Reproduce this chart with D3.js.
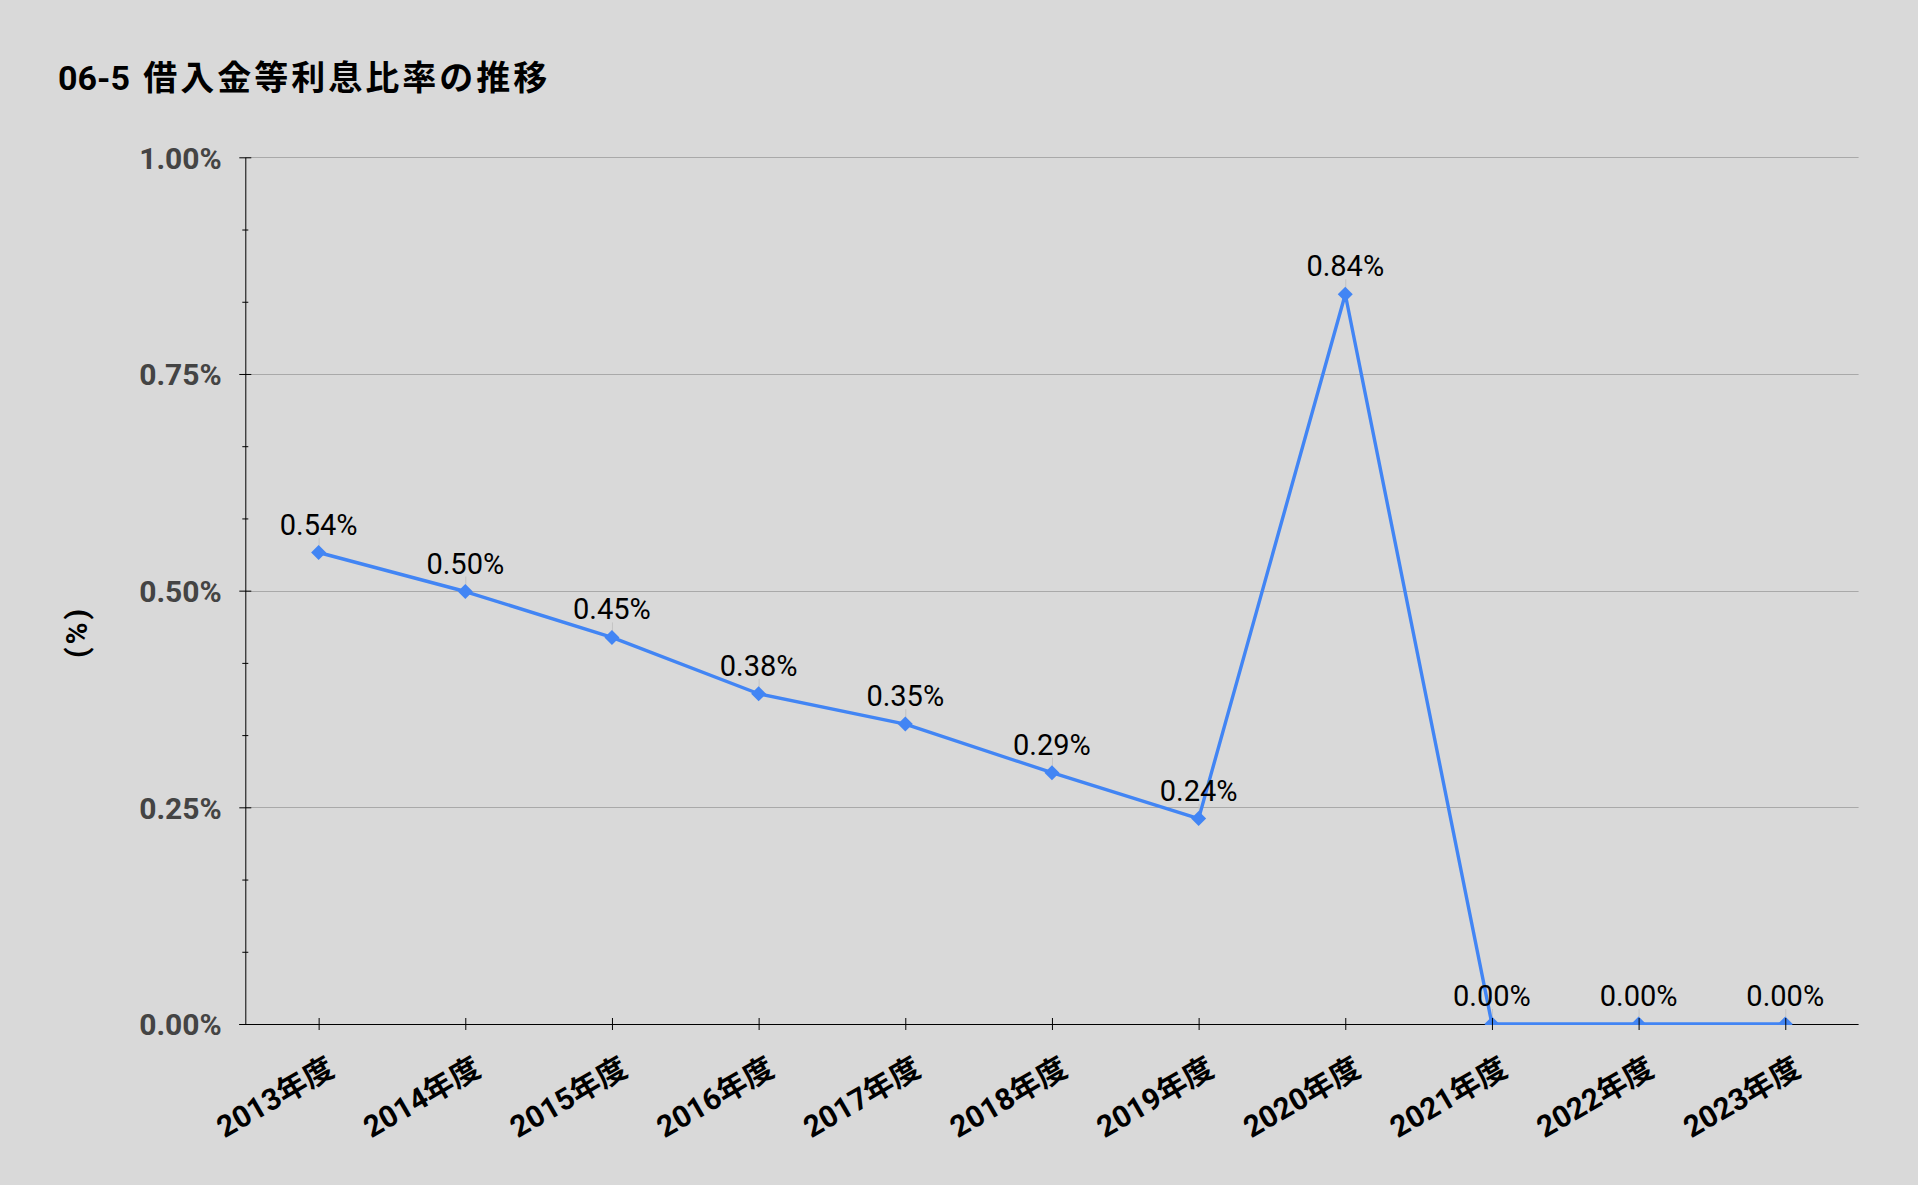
<!DOCTYPE html>
<html>
<head>
<meta charset="utf-8">
<script src="https://cdn.jsdelivr.net/npm/d3@7"></script>
<style>
  html, body { margin: 0; padding: 0; background: #d9d9d9; }
  svg { display: block; }
</style>
</head>
<body>
<script>
// ---- data ----
const titleNumber = "06-5";
const titleText = "借入金等利息比率の推移";
const yAxisTitle = "(%)";
const categories = ["2013年度","2014年度","2015年度","2016年度","2017年度","2018年度","2019年度","2020年度","2021年度","2022年度","2023年度"];
const values = [0.544, 0.499, 0.446, 0.381, 0.346, 0.290, 0.237, 0.842, 0, 0, 0];
const yTicks = [0, 0.25, 0.5, 0.75, 1.0];
const yMinorTicks = [1/12, 2/12, 4/12, 5/12, 7/12, 8/12, 10/12, 11/12];

// ---- layout ----
const W = 1918, H = 1185;
const plot = { left: 245.3, right: 1858.6, top: 157.3, bottom: 1024 };
const FONT = "Roboto, 'Noto Sans CJK JP', 'Noto Sans', sans-serif";
const BLUE = "#4285f4";

const svg = d3.select("body").append("svg").attr("width", W).attr("height", H)
  .style("font-family", FONT);
svg.append("rect").attr("width", W).attr("height", H).attr("fill", "#d9d9d9");

const x = d3.scalePoint().domain(categories).range([plot.left, plot.right]).padding(0.5);
const y = d3.scaleLinear().domain([0, 1]).range([plot.bottom, plot.top]);

// title
const t = svg.append("text").attr("x", 58).attr("y", 90)
  .attr("font-size", 34).attr("font-weight", "bold").attr("fill", "#000");
t.append("tspan").text(titleNumber);
t.append("tspan").attr("dx", 2).attr("letter-spacing", 3).text(" " + titleText);

// gridlines
svg.append("g").selectAll("line").data(yTicks.filter(d => d > 0)).join("line")
  .attr("x1", plot.left).attr("x2", plot.right)
  .attr("y1", d => Math.round(y(d)) + 0.5).attr("y2", d => Math.round(y(d)) + 0.5)
  .attr("stroke", "#a9a9a9").attr("stroke-width", 1);

// y axis (major)
const gy = svg.append("g").attr("transform", `translate(${plot.left},0)`)
  .call(d3.axisLeft(y).tickValues(yTicks).tickFormat(d => d.toFixed(2) + "%").tickSizeOuter(0).tickSizeInner(6));
gy.select(".domain").attr("stroke", "#000");
gy.selectAll(".tick line").attr("x1", -6).attr("x2", 6).attr("stroke", "#000");
gy.selectAll(".tick text").attr("x", -23.6).attr("dy", "0.36em")
  .attr("font-size", 30).attr("font-weight", "bold").attr("fill", "#444").style("font-family", FONT);

// y axis minor ticks
const gym = svg.append("g").attr("transform", `translate(${plot.left},0)`)
  .call(d3.axisLeft(y).tickValues(yMinorTicks).tickFormat("").tickSizeOuter(0));
gym.select(".domain").remove();
gym.selectAll(".tick line").attr("x1", -3).attr("x2", 3).attr("stroke", "#000");

// y axis title
svg.append("text").attr("transform", "translate(76,632) rotate(-90)")
  .attr("text-anchor", "middle").attr("dominant-baseline", "central")
  .attr("font-size", 30).attr("font-weight", "bold").attr("letter-spacing", 3)
  .attr("fill", "#000").text(yAxisTitle);

// x axis domain
svg.append("line").attr("x1", plot.left - 6).attr("x2", plot.right)
  .attr("y1", plot.bottom + 0.5).attr("y2", plot.bottom + 0.5).attr("stroke", "#000");

// clip
svg.append("defs").append("clipPath").attr("id", "plotclip").append("rect")
  .attr("x", plot.left).attr("y", plot.top - 40).attr("width", plot.right - plot.left)
  .attr("height", plot.bottom - plot.top + 41);

const series = svg.append("g").attr("clip-path", "url(#plotclip)");
const pts = categories.map((c, i) => ({ c, v: values[i] }));

// leader lines
series.selectAll("line.leader").data(pts).join("line").attr("class", "leader")
  .attr("x1", d => x(d.c) + 0.5).attr("x2", d => x(d.c) + 0.5)
  .attr("y1", d => y(d.v) - 15).attr("y2", d => y(d.v))
  .attr("stroke", "#c4c4c4").attr("stroke-width", 1);

series.append("path").datum(pts)
  .attr("d", d3.line().x(d => x(d.c)).y(d => y(d.v)))
  .attr("fill", "none").attr("stroke", BLUE).attr("stroke-width", 3.4).attr("stroke-linejoin", "round");

series.selectAll("path.mk").data(pts).join("path").attr("class", "mk")
  .attr("transform", d => `translate(${x(d.c)},${y(d.v)})`)
  .attr("d", "M0,-7.5L7.5,0L0,7.5L-7.5,0Z").attr("fill", BLUE);

// x axis ticks
const gx = svg.append("g").attr("transform", `translate(0,${plot.bottom})`)
  .call(d3.axisBottom(x).tickSizeOuter(0).tickSizeInner(6));
gx.select(".domain").remove();
gx.selectAll(".tick line").attr("y1", -6).attr("y2", 6).attr("stroke", "#000");
gx.selectAll(".tick text").attr("y", 0).attr("dy", 0)
  .attr("text-anchor", "end").attr("transform", "translate(17,50) rotate(-30)")
  .attr("font-size", 30).attr("font-weight", "bold").attr("fill", "#000").style("font-family", FONT);

// data labels
svg.append("g").selectAll("text").data(pts).join("text")
  .attr("x", d => x(d.c)).attr("y", d => y(d.v) - 18)
  .attr("text-anchor", "middle").attr("font-size", 29).attr("fill", "#000")
  .text(d => d.v.toFixed(2) + "%");
</script>
</body>
</html>
